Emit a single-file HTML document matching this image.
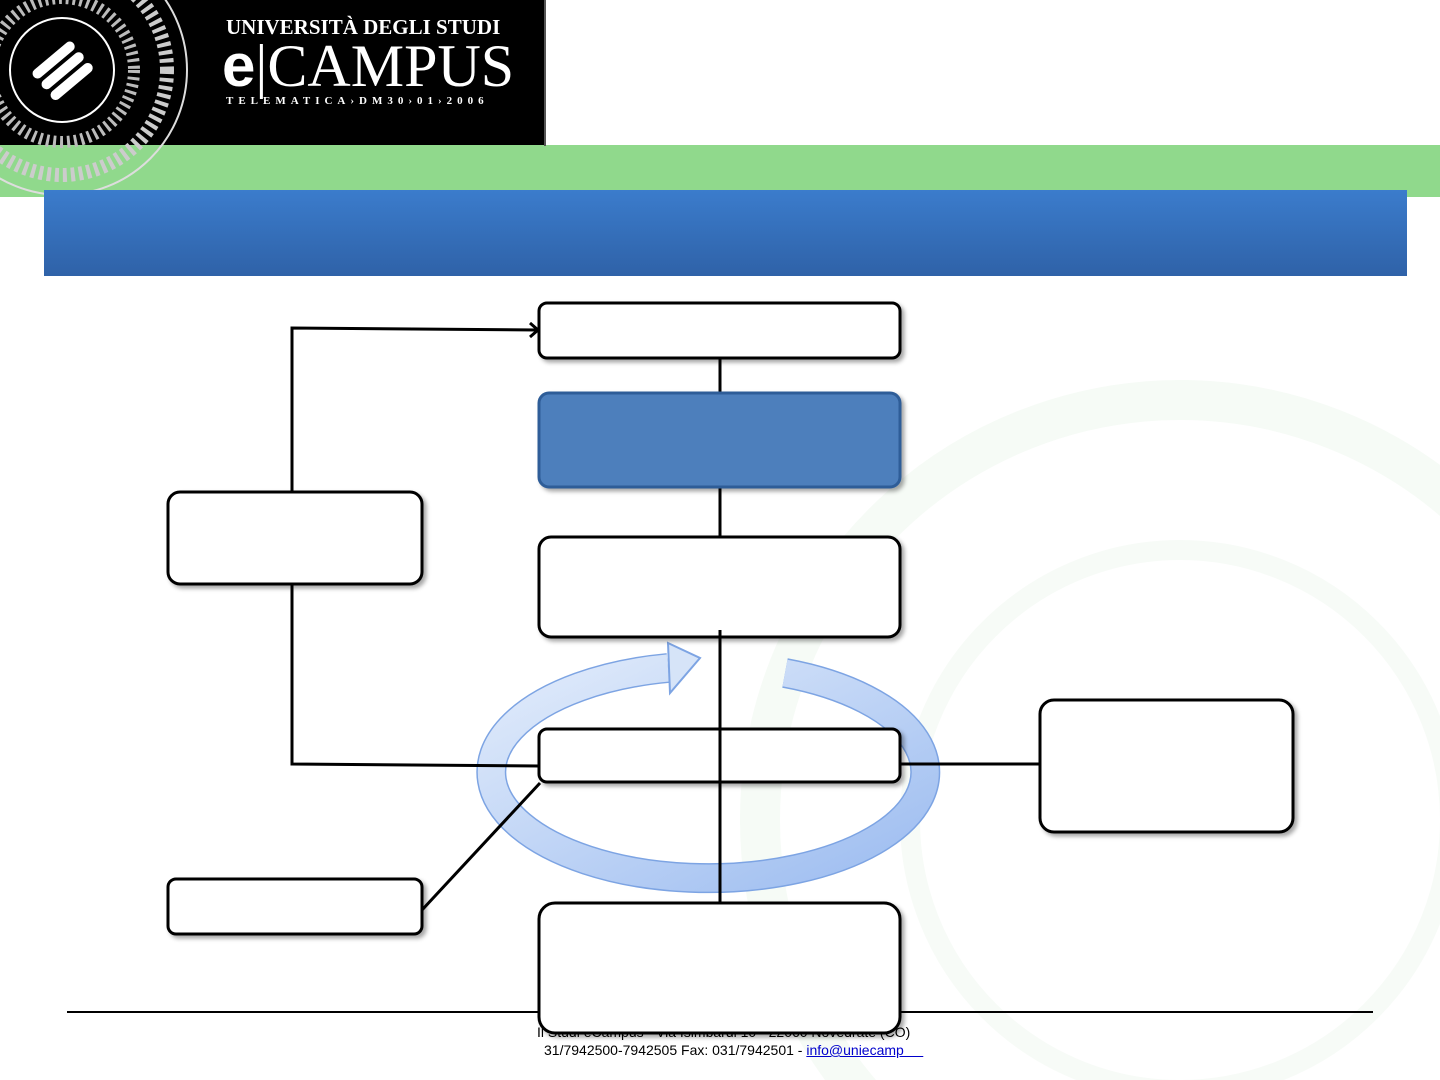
<!DOCTYPE html>
<html><head><meta charset="utf-8"><style>
html,body{margin:0;padding:0;width:1440px;height:1080px;overflow:hidden;background:#fff;font-family:"Liberation Sans","DejaVu Sans",sans-serif}
svg{position:absolute;left:0;top:0;display:block}
.t{position:absolute;font-family:"Liberation Serif",serif;color:#fff;white-space:nowrap}
</style></head><body>
<svg width="1440" height="1080" viewBox="0 0 1440 1080">
<defs>
<linearGradient id="bb" x1="0" y1="0" x2="0" y2="1"><stop offset="0" stop-color="#3b7ccc"/><stop offset="1" stop-color="#2f62a8"/></linearGradient>
<linearGradient id="ring" x1="0" y1="0" x2="1" y2="1"><stop offset="0" stop-color="#e2ecfb"/><stop offset="1" stop-color="#9cbcf0"/></linearGradient>
<filter id="sh" x="-10%" y="-10%" width="130%" height="140%"><feDropShadow dx="3" dy="3" stdDeviation="2" flood-color="#000" flood-opacity="0.35"/></filter>
</defs>
<circle cx="1180" cy="820" r="420" fill="none" stroke="#f6fbf6" stroke-width="40"/>
<circle cx="1180" cy="820" r="270" fill="none" stroke="#f7fbf7" stroke-width="20"/>
<rect x="0" y="145" width="1440" height="52" fill="#90d98c"/>
<rect x="0" y="0" width="544" height="145" fill="#000"/>
<rect x="544" y="0" width="2" height="146" fill="#555"/>
<circle cx="62" cy="70" r="125" fill="none" stroke="#ddd" stroke-width="2"/>
<circle cx="62" cy="70" r="105" fill="none" stroke="#ccc" stroke-width="14" stroke-dasharray="4 4"/>
<circle cx="62" cy="70" r="72" fill="none" stroke="#bbb" stroke-width="12" stroke-dasharray="3 4"/>
<circle cx="62" cy="70" r="52" fill="none" stroke="#fff" stroke-width="2"/>
<g transform="rotate(-40 62 70)" fill="#fff"><rect x="36" y="52" width="52" height="10" rx="5"/><rect x="36" y="66" width="52" height="10" rx="5"/><rect x="36" y="80" width="52" height="10" rx="5"/></g>
<rect x="44" y="190" width="1363" height="86" fill="url(#bb)"/>
<path d="M668 668 A217 106 0 1 0 785 673" fill="none" stroke="#7da4e3" stroke-width="30"/>
<path d="M668 668 A217 106 0 1 0 785 673" fill="none" stroke="url(#ring)" stroke-width="27"/>
<polygon points="668,643 700,658 670,693" fill="#d6e4f8" stroke="#7da4e3" stroke-width="2"/>
<g stroke="#000" stroke-width="3" fill="none">
<path d="M720 358V395M720 487V538M720 630V730M720 782V905"/>
<path d="M292 494V328L538 330"/>
<path d="M530 323L538 330L530 337"/>
<path d="M292 584V764L540 766"/>
<path d="M900 764H1040"/>
<path d="M422 910L540 783"/>
</g>
<g stroke="#000" stroke-width="3" fill="#fff" filter="url(#sh)">
<rect x="539" y="303" width="361" height="55" rx="8"/>
<rect x="539" y="393" width="361" height="94" rx="10" fill="#4e7fbc" stroke="#2f5d98"/>
<rect x="539" y="537" width="361" height="100" rx="12"/>
<rect x="168" y="492" width="254" height="92" rx="12"/>
<rect x="539" y="729" width="361" height="53" rx="8"/>
<rect x="1040" y="700" width="253" height="132" rx="14"/>
<rect x="168" y="879" width="254" height="55" rx="8"/>
</g>
<line x1="67" y1="1012" x2="1373" y2="1012" stroke="#000" stroke-width="2"/>
<line x1="720" y1="630" x2="720" y2="905" stroke="#000" stroke-width="3"/>
</svg>
<div style="position:absolute;left:537px;top:1024px;font-size:14px;color:#000;white-space:nowrap">Il Studi eCampus - Via Isimbardi 10 - 22060 Novedrate (CO)</div>
<svg width="1440" height="1080" viewBox="0 0 1440 1080">
<rect x="539" y="903" width="361" height="130" rx="16" fill="#fff" stroke="#000" stroke-width="3" filter="url(#sh)"/>
</svg>
<div class="t" style="left:226px;top:15px;font-size:21px;font-weight:bold">UNIVERSITÀ DEGLI STUDI</div>
<div class="t" style="left:222px;top:36px;font-size:60px;line-height:60px"><span style="font-family:'Liberation Sans',sans-serif;font-weight:bold">e</span>|CAMPUS</div>
<div class="t" style="left:226px;top:95px;font-size:11px;letter-spacing:5px;font-weight:bold">TELEMATICA›DM30›01›2006</div>
<div style="position:absolute;left:544px;top:1042px;font-size:14px;color:#000;white-space:nowrap">31/7942500-7942505 Fax: 031/7942501 - <span style="color:#00c;text-decoration:underline">info@uniecamp&nbsp;&nbsp;&nbsp;&nbsp;&nbsp;</span></div>
</body></html>
